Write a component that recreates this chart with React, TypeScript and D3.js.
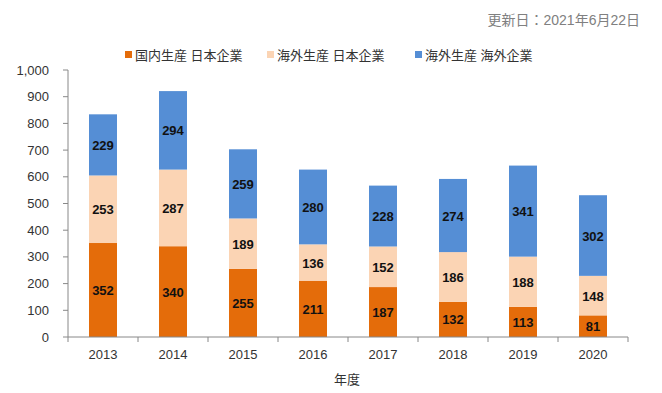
import React from "react";
import * as d3 from "d3";

const years = ["2013", "2014", "2015", "2016", "2017", "2018", "2019", "2020"];
const domesticJp = [352, 340, 255, 211, 187, 132, 113, 81];
const overseasJp = [253, 287, 189, 136, 152, 186, 188, 148];
const overseasForeign = [229, 294, 259, 280, 228, 274, 341, 302];
const seriesNames = ["国内生産 日本企業", "海外生産 日本企業", "海外生産 海外企業"];
const colors = ["#E46C0A", "#FBD4B4", "#558ED5"];
const yTicks = [0, 100, 200, 300, 400, 500, 600, 700, 800, 900, 1000];

const W = 662, H = 393;
const FONT = "'Liberation Sans', Arial, 'Noto Sans CJK JP', sans-serif";

export default function App() {
  const x = d3.scaleBand<string>().domain(years).range([68, 628]).paddingInner(0.6).paddingOuter(0.3);
  const xb = d3.scaleBand<string>().domain(years).range([68, 628]);
  const y = d3.scaleLinear().domain([0, 1000]).range([337, 70]);
  const rows = years.map((yr, i) => ({ yr, a: domesticJp[i], b: overseasJp[i], c: overseasForeign[i] }));
  const stack = d3.stack<any>().keys(["a", "b", "c"])(rows);
  const fmt = d3.format(",");
  const legendX = [125, 267, 415];

  return (
    <svg width={W} height={H} style={{ position: "absolute", left: 0, top: 0, background: "#fff" }} fontFamily={FONT}>
      <text x={640} y={25} textAnchor="end" fontSize={14} fill="#808080">更新日：2021年6月22日</text>
      {seriesNames.map((n, i) => (
        <g key={n}>
          <rect x={legendX[i]} y={51} width={7} height={7} fill={colors[i]} />
          <text x={legendX[i] + 10} y={60} fontSize={13} fill="#333">{n}</text>
        </g>
      ))}
      {stack.map((s, si) => (
        <g key={si}>
          {s.map((d: any) => (
            <rect key={d.data.yr} x={x(d.data.yr)} y={y(d[1])} width={x.bandwidth()} height={y(d[0]) - y(d[1])} fill={colors[si]} />
          ))}
          {s.map((d: any) => (
            <text key={"t" + d.data.yr} x={(x(d.data.yr) as number) + x.bandwidth() / 2} y={(y(d[0]) + y(d[1])) / 2 + 5}
              textAnchor="middle" fontSize={13} fontWeight="bold" fill="#111">{d[1] - d[0]}</text>
          ))}
        </g>
      ))}
      <line x1={68} x2={68} y1={70} y2={337} stroke="#888" />
      {yTicks.map(t => (
        <g key={t}>
          <line x1={63} x2={68} y1={y(t)} y2={y(t)} stroke="#888" />
          <text x={49} y={y(t) + 4.5} textAnchor="end" fontSize={13} fill="#333">{fmt(t)}</text>
        </g>
      ))}
      <line x1={68} x2={628} y1={337} y2={337} stroke="#888" />
      {years.map(yr => (
        <g key={yr}>
          <line x1={(xb(yr) as number) + xb.bandwidth()} x2={(xb(yr) as number) + xb.bandwidth()} y1={337} y2={342} stroke="#888" />
          <text x={(xb(yr) as number) + xb.bandwidth() / 2} y={359} textAnchor="middle" fontSize={13} fill="#333">{yr}</text>
        </g>
      ))}
      <line x1={68} x2={68} y1={337} y2={342} stroke="#888" />
      <text x={347} y={384} textAnchor="middle" fontSize={13} fill="#333">年度</text>
    </svg>
  );
}
